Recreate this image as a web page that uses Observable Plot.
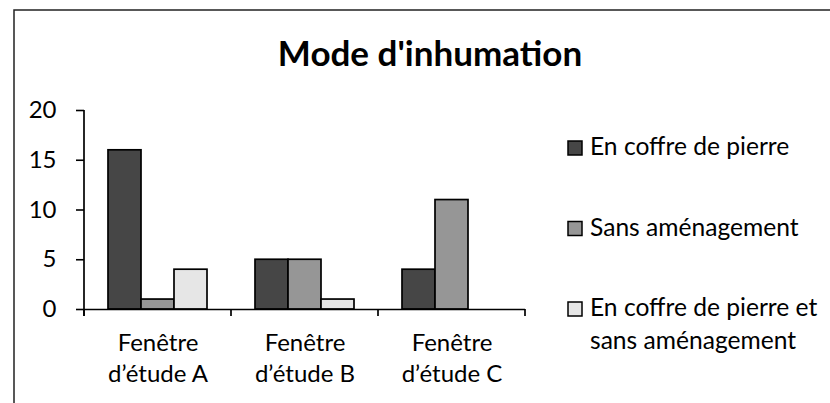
<!DOCTYPE html>
<html><head><meta charset="utf-8">
<script src="https://cdn.jsdelivr.net/npm/d3@7"></script>
<script src="https://cdn.jsdelivr.net/npm/@observablehq/plot@0.6"></script>
<style>
body{margin:0;background:#fff}
#chart{position:relative;width:830px;height:403px;overflow:hidden}
</style>
</head><body><div id="chart"></div>
<script>
const title = "Mode d'inhumation";
const groups = ["Fenêtre\nd’étude A", "Fenêtre\nd’étude B", "Fenêtre\nd’étude C"];
const series = ["En coffre de pierre", "Sans aménagement", "En coffre de pierre et sans aménagement"];
const legendLabels = ["En coffre de pierre", "Sans aménagement", "En coffre de pierre et\nsans aménagement"];
const valuesCoffre = [16, 5, 4];
const valuesSans = [1, 5, 11];
const valuesMixte = [4, 1, 0];
const yTicks = [0, 5, 10, 15, 20];
const colors = ["#464646", "#969696", "#e6e6e6"];

const seriesValues = [valuesCoffre, valuesSans, valuesMixte];
const data = groups.flatMap((g, i) => series.map((s, j) => ({group: g, series: s, value: seriesValues[j][i]})));

const FONT = "Lato, 'Open Sans', sans-serif";
const FS = 24;

const plot = Plot.plot({
  width: 830, height: 403,
  marginLeft: 83, marginRight: 304, marginTop: 110, marginBottom: 94,
  style: {fontFamily: FONT, fontSize: FS + "px", color: "#000", background: "transparent", overflow: "visible"},
  fx: {domain: groups, padding: 0, label: null},
  x: {domain: series, paddingInner: 0, paddingOuter: 0.72, axis: null},
  y: {domain: [0, 20], ticks: yTicks, label: null},
  color: {domain: series, range: colors},
  marks: [
    Plot.barY(data.filter(d => d.value > 0), {fx: "group", x: "series", y: "value", fill: "series", stroke: "#000", strokeWidth: 1.7}),
    Plot.axisY({ticks: yTicks, tickSize: 8, tickPadding: 20, label: null, stroke: "#000", strokeWidth: 1.6, fontSize: FS}),
    Plot.axisFx({anchor: "bottom", tickSize: 0, tickPadding: 19, lineHeight: 1.3, label: null, fontSize: FS}),
    Plot.ruleY([0], {stroke: "#000", strokeWidth: 1.7})
  ]
});

const svg = d3.select(plot);
const fx = plot.scale("fx");
const y = plot.scale("y");
const color = plot.scale("color");
const x0 = fx.apply(groups[0]);
const y0 = y.apply(0);

// outer chart border (top and left)
svg.insert("path", ":first-child").attr("d", "M14,403V10H830").attr("fill", "none").attr("stroke", "#222").attr("stroke-width", 1.5);

// y axis line
svg.append("line").attr("x1", x0).attr("x2", x0).attr("y1", y.apply(20)).attr("y2", y0 + 7)
  .attr("stroke", "#000").attr("stroke-width", 1.7);
// category boundary ticks
const bounds = groups.map(g => fx.apply(g)).concat([fx.apply(groups[groups.length - 1]) + fx.bandwidth]);
bounds.forEach(b => svg.append("line").attr("x1", b).attr("x2", b).attr("y1", y0).attr("y2", y0 + 7)
  .attr("stroke", "#000").attr("stroke-width", 1.7));

// title
svg.append("text").attr("x", 430).attr("y", 66).attr("text-anchor", "middle")
  .attr("font-family", FONT).attr("font-weight", "bold").attr("font-size", 35).attr("fill", "#000").text(title);

// legend
const lg = svg.append("g").attr("font-family", FONT).attr("font-size", 24.6).attr("fill", "#000").attr("text-anchor", "start");
series.forEach((s, i) => {
  const base = 155 + i * 80.5;
  lg.append("rect").attr("x", 568).attr("y", base - 14).attr("width", 14).attr("height", 14)
    .attr("fill", color.apply(s)).attr("stroke", "#000").attr("stroke-width", 1.5);
  const t = lg.append("text").attr("x", 590).attr("y", base);
  legendLabels[i].split("\n").forEach((line, k) => {
    t.append("tspan").attr("x", 590).attr("dy", k === 0 ? 0 : 33).text(line);
  });
});

document.getElementById("chart").appendChild(plot);
</script>
</body></html>
